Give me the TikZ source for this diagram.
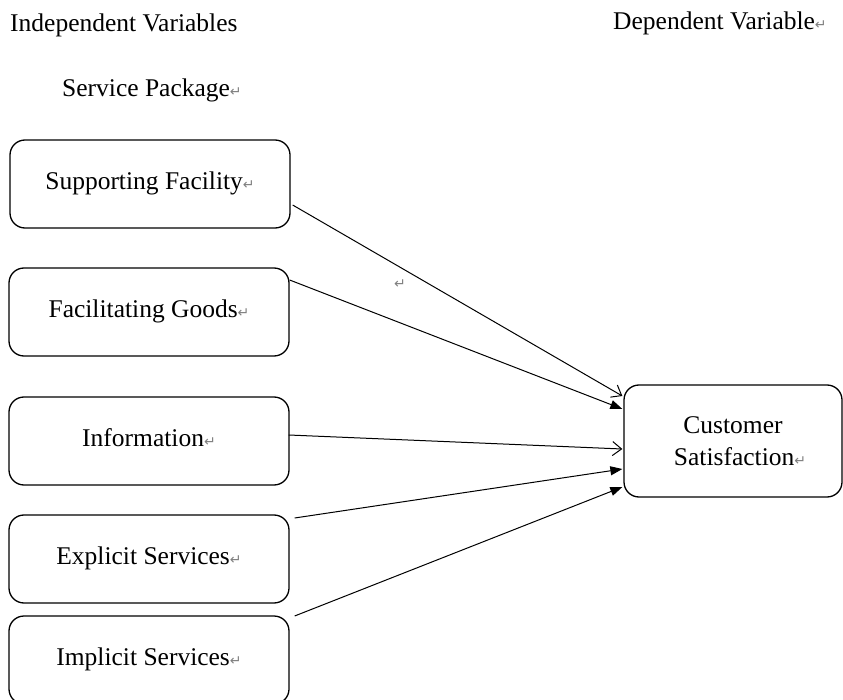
\documentclass[tikz,border=0pt]{standalone}
\usepackage{fontspec}
\setmainfont{Liberation Serif}
\newfontfamily\symf{DejaVu Sans}
\usetikzlibrary{arrows.meta}
\newcommand\pmark{{\symf\fontsize{14}{14}\selectfont\color{black!50}↵}}
\begin{document}
\begin{tikzpicture}[x=1pt,y=-1pt,
  every node/.style={font=\fontsize{25.5}{32}\selectfont},
  varbox/.style={draw, line width=1.3pt, rounded corners=15pt, minimum width=280pt, minimum height=88pt, inner sep=0pt, text height=17pt, text depth=6pt},
  depbox/.style={draw, line width=1.3pt, rounded corners=15pt, minimum width=218pt, minimum height=112pt, inner sep=0pt, align=center},
  link/.style={line width=1pt},
  openhead/.style={link, -{Straight Barb[length=9pt,width=14pt,line width=1pt]}},
  fillhead/.style={link, -{Triangle[length=12pt,width=9pt]}}]
\useasboundingbox (0,0) rectangle (843,700);
\clip (0,0) rectangle (843,700);
\fill[white] (0,0) rectangle (843,700);

\node[anchor=base west, inner sep=0pt] (iv) at (10,32) {Independent Variables};
\node[anchor=base west, inner sep=0pt] (dv) at (613,30) {Dependent Variable\pmark};
\node[anchor=base west, inner sep=0pt] (sp) at (62,97) {Service Package\pmark};

\node[varbox] (b1) at (150,184) {Supporting Facility\pmark};
\node[varbox] (b2) at (149,312) {Facilitating Goods\pmark};
\node[varbox] (b3) at (149,441) {Information\pmark};
\node[varbox] (b4) at (149,559) {Explicit Services\pmark};
\node[varbox] (b5) at (149,660) {Implicit Services\pmark};

\node[depbox] (cs) at (733,441) {Customer\\ \hspace*{14pt}Satisfaction\pmark};

\node[inner sep=0pt] (stray) at (400,284) {\pmark};

\draw[openhead] ([xshift=2pt,yshift=-21pt]b1.east) -- ([xshift=-1pt,yshift=45pt]cs.west);
\draw[fillhead] ([yshift=32pt]b2.east) -- ([xshift=-1pt,yshift=32pt]cs.west);
\draw[openhead] ([xshift=-1pt,yshift=6pt]b3.east) -- ([xshift=-1pt,yshift=-8pt]cs.west);
\draw[fillhead] ([xshift=5pt,yshift=41pt]b4.east) -- ([xshift=-1pt,yshift=-28pt]cs.west);
\draw[fillhead] ([xshift=5pt,yshift=44pt]b5.east) -- ([xshift=-1pt,yshift=-46pt]cs.west);
\end{tikzpicture}
\end{document}
